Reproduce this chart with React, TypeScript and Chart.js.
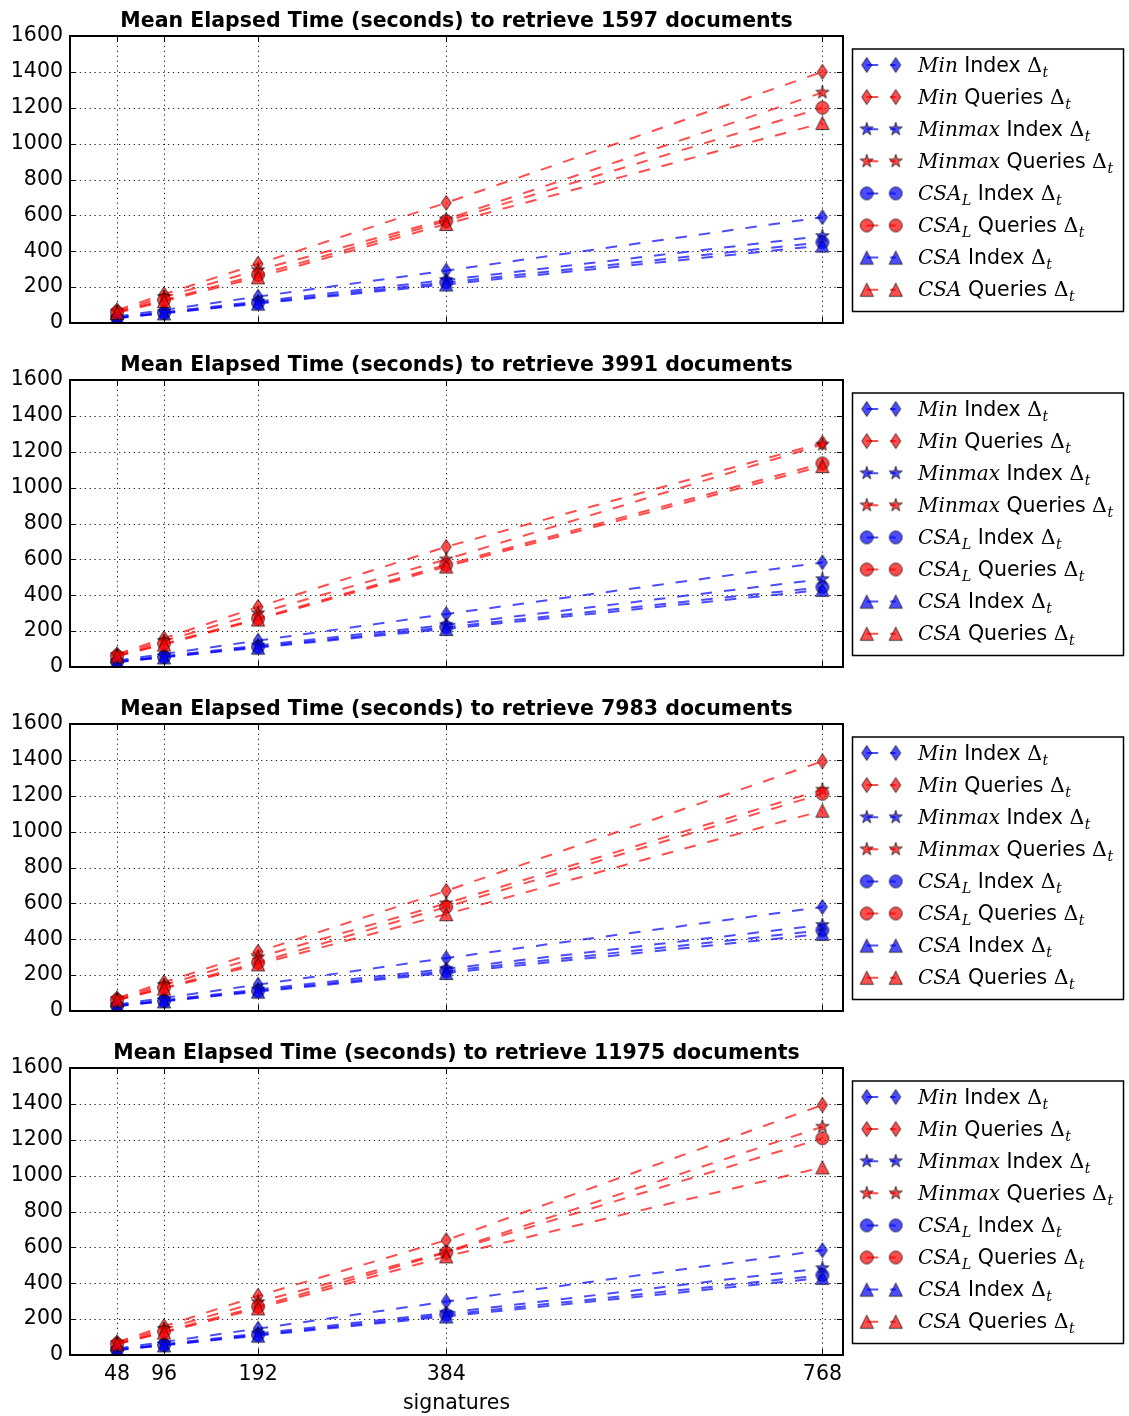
import React, { useEffect, useRef } from 'react';
import { Chart, registerables } from 'chart.js';
Chart.register(...registerables);

// ---------- data ----------
const signatures = [48, 96, 192, 384, 768];
const yTickValues = [0, 200, 400, 600, 800, 1000, 1200, 1400, 1600];
const documentCounts = [1597, 3991, 7983, 11975];
const xAxisTitle = 'signatures';

// Panel 1: 1597 documents
const p1MinIndex = [36, 73, 147, 292, 590];
const p1MinQueries = [72, 160, 330, 670, 1400];
const p1MinmaxIndex = [30, 60, 120, 240, 485];
const p1MinmaxQueries = [64, 145, 295, 578, 1285];
const p1CsaLIndex = [28, 56, 112, 226, 450];
const p1CsaLQueries = [60, 128, 268, 568, 1200];
const p1CsaIndex = [27, 54, 108, 215, 432];
const p1CsaQueries = [56, 122, 255, 552, 1115];

// Panel 2: 3991 documents
const p2MinIndex = [36, 73, 147, 295, 583];
const p2MinQueries = [72, 160, 335, 670, 1250];
const p2MinmaxIndex = [30, 60, 120, 235, 490];
const p2MinmaxQueries = [66, 145, 300, 600, 1240];
const p2CsaLIndex = [28, 56, 112, 222, 445];
const p2CsaLQueries = [62, 130, 270, 570, 1135];
const p2CsaIndex = [27, 54, 108, 212, 430];
const p2CsaQueries = [60, 125, 265, 560, 1120];

// Panel 3: 7983 documents
const p3MinIndex = [36, 73, 147, 295, 580];
const p3MinQueries = [72, 160, 330, 670, 1392];
const p3MinmaxIndex = [30, 60, 120, 235, 480];
const p3MinmaxQueries = [66, 145, 300, 600, 1234];
const p3CsaLIndex = [28, 56, 112, 222, 450];
const p3CsaLQueries = [62, 130, 270, 580, 1211];
const p3CsaIndex = [27, 54, 108, 212, 430];
const p3CsaQueries = [60, 125, 260, 540, 1117];

// Panel 4: 11975 documents
const p4MinIndex = [36, 73, 147, 298, 584];
const p4MinQueries = [72, 160, 330, 640, 1394];
const p4MinmaxIndex = [30, 60, 120, 235, 484];
const p4MinmaxQueries = [66, 145, 295, 575, 1273];
const p4CsaLIndex = [28, 56, 112, 225, 445];
const p4CsaLQueries = [62, 130, 270, 571, 1208];
const p4CsaIndex = [27, 54, 108, 215, 430];
const p4CsaQueries = [60, 125, 260, 550, 1046];

const panelSeries = [
  [p1MinIndex, p1MinQueries, p1MinmaxIndex, p1MinmaxQueries, p1CsaLIndex, p1CsaLQueries, p1CsaIndex, p1CsaQueries],
  [p2MinIndex, p2MinQueries, p2MinmaxIndex, p2MinmaxQueries, p2CsaLIndex, p2CsaLQueries, p2CsaIndex, p2CsaQueries],
  [p3MinIndex, p3MinQueries, p3MinmaxIndex, p3MinmaxQueries, p3CsaLIndex, p3CsaLQueries, p3CsaIndex, p3CsaQueries],
  [p4MinIndex, p4MinQueries, p4MinmaxIndex, p4MinmaxQueries, p4CsaLIndex, p4CsaLQueries, p4CsaIndex, p4CsaQueries],
];

const seriesMath = ['Min', 'Min', 'Minmax', 'Minmax', 'CSA', 'CSA', 'CSA', 'CSA'];
const seriesMathSub = ['', '', '', '', 'L', 'L', '', ''];
const seriesKind = ['Index', 'Queries', 'Index', 'Queries', 'Index', 'Queries', 'Index', 'Queries'];
const seriesShape = ['diamond', 'diamond', 'star', 'star', 'circle', 'circle', 'triangle', 'triangle'];

// ---------- styles ----------
const BLUE = 'rgba(0,0,255,0.7)';
const RED = 'rgba(255,0,0,0.7)';
const seriesColor = [BLUE, RED, BLUE, RED, BLUE, RED, BLUE, RED];

const FIG_W = 1129;
const FIG_H = 1416;
const PLOT_TOPS = [36, 380, 724, 1068];
const PLOT_H = 287;
const PLOT_LEFT = 70;
const PLOT_RIGHT = 843;
const TOP_PAD = 36;
const DASH = [11.5, 12];
const FONT_SANS = '"DejaVu Sans", sans-serif';
const FS = 20.5;
const MATH_FONT = 'italic 20px "DejaVu Serif", serif';
const SUB_FONT = 'italic 14px "DejaVu Serif", serif';

function makeMarker(shape: string, fill: string): HTMLCanvasElement {
  const s = 22;
  const c = document.createElement('canvas');
  c.width = s;
  c.height = s;
  const g = c.getContext('2d') as CanvasRenderingContext2D;
  g.translate(s / 2, s / 2);
  g.beginPath();
  if (shape === 'diamond') {
    g.moveTo(0, -7.5);
    g.lineTo(5, 0);
    g.lineTo(0, 7.5);
    g.lineTo(-5, 0);
    g.closePath();
  } else if (shape === 'star') {
    const R = 6.9;
    const r = R * 0.381966;
    for (let k = 0; k < 10; k++) {
      const ang = -Math.PI / 2 + (k * Math.PI) / 5;
      const rad = k % 2 === 0 ? R : r;
      const px = rad * Math.cos(ang);
      const py = rad * Math.sin(ang);
      if (k === 0) g.moveTo(px, py);
      else g.lineTo(px, py);
    }
    g.closePath();
  } else if (shape === 'circle') {
    g.arc(0, 0, 6.4, 0, Math.PI * 2);
  } else {
    g.moveTo(0, -6.6);
    g.lineTo(6.6, 6.6);
    g.lineTo(-6.6, 6.6);
    g.closePath();
  }
  g.fillStyle = fill;
  g.fill();
  g.lineWidth = 1;
  g.strokeStyle = 'rgba(0,0,0,0.7)';
  g.stroke();
  return c;
}

function drawLegend(ctx: CanvasRenderingContext2D, markers: HTMLCanvasElement[]) {
  const boxL = 852.5, boxT = 49, boxR = 1123.5, boxB = 311.5;
  ctx.save();
  ctx.fillStyle = '#fff';
  ctx.fillRect(boxL, boxT, boxR - boxL, boxB - boxT);
  ctx.strokeStyle = '#000';
  ctx.lineWidth = 1.5;
  ctx.setLineDash([]);
  ctx.strokeRect(boxL, boxT, boxR - boxL, boxB - boxT);
  for (let k = 0; k < 8; k++) {
    const cy = 65 + 32.1 * k;
    const x1 = 866.7, x2 = 895.7;
    ctx.strokeStyle = seriesColor[k];
    ctx.lineWidth = 2;
    ctx.setLineDash(DASH);
    ctx.beginPath();
    ctx.moveTo(x1, cy);
    ctx.lineTo(x2, cy);
    ctx.stroke();
    ctx.setLineDash([]);
    const m = markers[k];
    ctx.drawImage(m, x1 - m.width / 2, cy - m.height / 2);
    ctx.drawImage(m, x2 - m.width / 2, cy - m.height / 2);
    // text
    const base = cy + 6.5;
    let x = 918;
    ctx.fillStyle = '#000';
    ctx.textAlign = 'left';
    ctx.textBaseline = 'alphabetic';
    ctx.font = MATH_FONT;
    ctx.fillText(seriesMath[k], x, base);
    x += ctx.measureText(seriesMath[k]).width;
    if (seriesMathSub[k]) {
      ctx.font = SUB_FONT;
      ctx.fillText(seriesMathSub[k], x + 0.5, base + 5);
      x += ctx.measureText(seriesMathSub[k]).width + 0.5;
    }
    ctx.font = `${FS}px ${FONT_SANS}`;
    const mid = ' ' + seriesKind[k] + ' ';
    ctx.fillText(mid, x, base);
    x += ctx.measureText(mid).width;
    ctx.font = `${FS}px "DejaVu Serif", serif`;
    ctx.fillText('\u0394', x, base);
    x += ctx.measureText('\u0394').width;
    ctx.font = SUB_FONT;
    ctx.fillText('t', x + 0.5, base + 5);
  }
  ctx.restore();
}

function Panel({ index }: { index: number }) {
  const ref = useRef<HTMLCanvasElement | null>(null);
  const isLast = index === PLOT_TOPS.length - 1;
  const canvasTop = PLOT_TOPS[index] - TOP_PAD;
  const canvasH = isLast ? FIG_H - canvasTop : PLOT_TOPS[index + 1] - TOP_PAD - canvasTop;
  const bottomExtra = canvasH - TOP_PAD - PLOT_H;

  useEffect(() => {
    if (!ref.current) return;
    const markers = seriesShape.map((s, k) => makeMarker(s, seriesColor[k]));
    const series = panelSeries[index];
    const datasets = series.map((vals, k) => ({
      label: `${seriesMath[k]}${seriesMathSub[k] ? '_' + seriesMathSub[k] : ''} ${seriesKind[k]} \u0394t`,
      data: signatures.map((s, i) => ({ x: s, y: vals[i] })),
      borderColor: seriesColor[k],
      backgroundColor: seriesColor[k],
      borderWidth: 2,
      borderDash: DASH,
      pointStyle: markers[k] as any,
      pointRadius: 6,
      pointHoverRadius: 6,
      fill: false,
      tension: 0,
      order: 8 - k,
    }));

    const decor = {
      id: 'decor' + index,
      beforeDatasetsDraw(chart: any) {
        const { ctx, chartArea: a, scales } = chart;
        const xs = scales.x, ys = scales.y;
        ctx.save();
        ctx.strokeStyle = 'rgba(0,0,0,0.85)';
        ctx.lineWidth = 1;
        ctx.setLineDash([1.3, 3.6]);
        signatures.forEach((v) => {
          const px = Math.round(xs.getPixelForValue(v)) + 0.5;
          ctx.beginPath();
          ctx.moveTo(px, a.top);
          ctx.lineTo(px, a.bottom);
          ctx.stroke();
        });
        yTickValues.forEach((v) => {
          const py = Math.round(ys.getPixelForValue(v)) + 0.5;
          ctx.beginPath();
          ctx.moveTo(a.left, py);
          ctx.lineTo(a.right, py);
          ctx.stroke();
        });
        ctx.restore();
      },
      afterDatasetsDraw(chart: any) {
        const { ctx, chartArea: a, scales } = chart;
        const xs = scales.x, ys = scales.y;
        ctx.save();
        ctx.setLineDash([]);
        ctx.strokeStyle = '#000';
        ctx.lineWidth = 1;
        const TL = 6;
        signatures.forEach((v) => {
          const px = Math.round(xs.getPixelForValue(v)) + 0.5;
          ctx.beginPath();
          ctx.moveTo(px, a.bottom);
          ctx.lineTo(px, a.bottom - TL);
          ctx.moveTo(px, a.top);
          ctx.lineTo(px, a.top + TL);
          ctx.stroke();
        });
        yTickValues.forEach((v) => {
          const py = Math.round(ys.getPixelForValue(v)) + 0.5;
          ctx.beginPath();
          ctx.moveTo(a.left, py);
          ctx.lineTo(a.left + TL, py);
          ctx.moveTo(a.right, py);
          ctx.lineTo(a.right - TL, py);
          ctx.stroke();
        });
        ctx.lineWidth = 2;
        ctx.strokeRect(a.left, a.top, a.right - a.left, a.bottom - a.top);
        ctx.restore();
      },
      afterDraw(chart: any) {
        const { ctx, chartArea: a } = chart;
        ctx.save();
        ctx.fillStyle = '#000';
        ctx.font = `bold ${FS}px ${FONT_SANS}`;
        ctx.textAlign = 'center';
        ctx.textBaseline = 'alphabetic';
        ctx.fillText(
          `Mean Elapsed Time (seconds) to retrieve ${documentCounts[index]} documents`,
          (a.left + a.right) / 2,
          a.top - 9.5
        );
        if (isLast) {
          ctx.font = `${FS}px ${FONT_SANS}`;
          ctx.fillText(xAxisTitle, (a.left + a.right) / 2, a.bottom + 54);
        }
        ctx.restore();
        drawLegend(ctx, markers);
      },
    };

    const chart = new Chart(ref.current, {
      type: 'line',
      data: { datasets: datasets as any },
      options: {
        animation: false,
        responsive: false,
        devicePixelRatio: 1,
        layout: { padding: { top: TOP_PAD, right: FIG_W - PLOT_RIGHT, left: 0, bottom: 0 } },
        plugins: { legend: { display: false }, tooltip: { enabled: false }, title: { display: false } },
        scales: {
          x: {
            type: 'linear',
            min: 0,
            max: 789,
            grid: { display: false, drawTicks: false },
            border: { display: false },
            afterBuildTicks: (scale: any) => {
              scale.ticks = signatures.map((v) => ({ value: v }));
            },
            afterFit: (scale: any) => {
              scale.height = bottomExtra;
            },
            ticks: {
              display: isLast,
              autoSkip: false,
              maxRotation: 0,
              padding: 7,
              color: '#000',
              font: { family: 'DejaVu Sans', size: FS },
              callback: (v: any) => String(v),
            },
          },
          y: {
            type: 'linear',
            min: 0,
            max: 1600,
            grid: { display: false, drawTicks: false },
            border: { display: false },
            afterBuildTicks: (scale: any) => {
              scale.ticks = yTickValues.map((v) => ({ value: v }));
            },
            afterFit: (scale: any) => {
              scale.width = PLOT_LEFT;
            },
            ticks: {
              padding: 7,
              color: '#000',
              font: { family: 'DejaVu Sans', size: FS },
              callback: (v: any) => String(v),
            },
          },
        },
      },
      plugins: [decor],
    } as any);
    return () => chart.destroy();
  }, [index]);

  return (
    <canvas
      ref={ref}
      width={FIG_W}
      height={canvasH}
      style={{ position: 'absolute', left: 0, top: canvasTop, width: FIG_W, height: canvasH, display: 'block' }}
    />
  );
}

export default function App() {
  return (
    <div style={{ position: 'absolute', left: 0, top: 0, width: FIG_W, height: FIG_H, background: '#fff', overflow: 'hidden' }}>
      {PLOT_TOPS.map((_, i) => (
        <Panel key={i} index={i} />
      ))}
    </div>
  );
}
